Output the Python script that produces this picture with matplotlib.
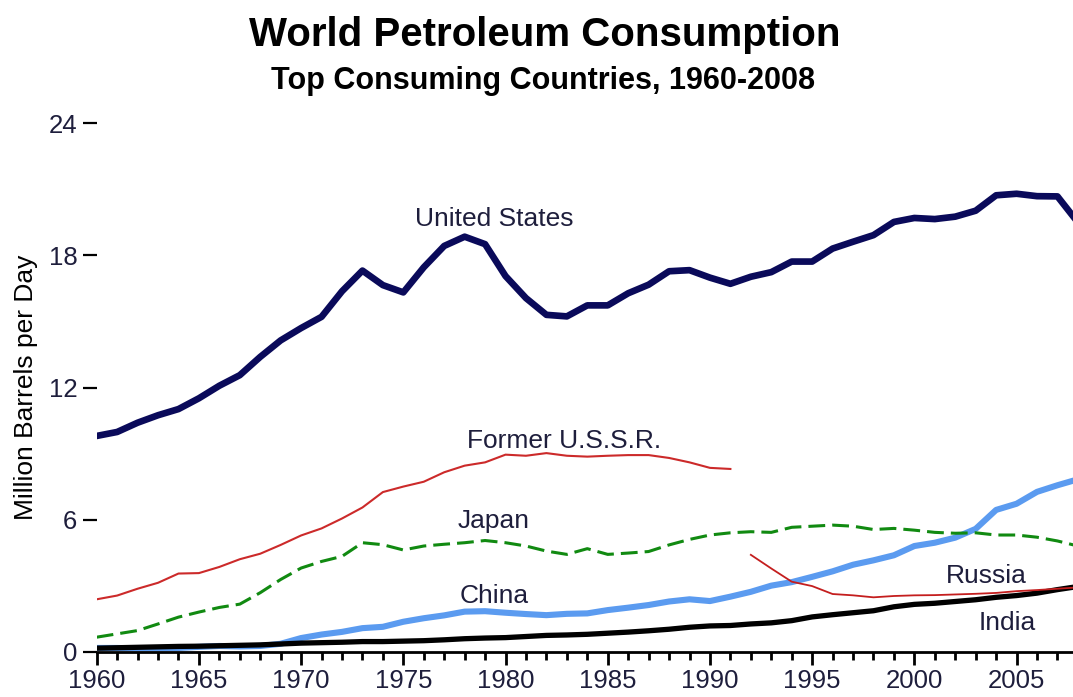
import matplotlib
matplotlib.use("Agg")
import matplotlib.pyplot as plt
from matplotlib.ticker import MultipleLocator

plt.rcParams['font.family'] = ['Liberation Sans', 'DejaVu Sans']

years = list(range(1960, 2009))

united_states = [9.80, 9.98, 10.40, 10.74, 11.02, 11.51, 12.08, 12.56, 13.39, 14.14,
                 14.70, 15.21, 16.37, 17.31, 16.65, 16.32, 17.46, 18.43, 18.85, 18.51,
                 17.06, 16.06, 15.30, 15.23, 15.73, 15.73, 16.28, 16.67, 17.28, 17.33,
                 16.99, 16.71, 17.03, 17.24, 17.72, 17.72, 18.31, 18.62, 18.92, 19.52,
                 19.70, 19.65, 19.76, 20.03, 20.73, 20.80, 20.69, 20.68, 19.50]

ussr_years = list(range(1960, 1992))
former_ussr = [2.38, 2.55, 2.86, 3.13, 3.55, 3.57, 3.85, 4.20, 4.45, 4.85,
               5.28, 5.60, 6.05, 6.55, 7.25, 7.50, 7.72, 8.15, 8.45, 8.60,
               8.95, 8.90, 9.02, 8.90, 8.86, 8.90, 8.93, 8.93, 8.80, 8.60,
               8.35, 8.30]

japan = [0.66, 0.81, 0.96, 1.26, 1.57, 1.80, 2.01, 2.16, 2.68, 3.28,
         3.80, 4.10, 4.33, 4.95, 4.86, 4.62, 4.80, 4.88, 4.95, 5.05,
         4.95, 4.80, 4.57, 4.42, 4.68, 4.42, 4.48, 4.55, 4.85, 5.10,
         5.30, 5.40, 5.45, 5.42, 5.65, 5.70, 5.75, 5.70, 5.55, 5.60,
         5.52, 5.42, 5.38, 5.40, 5.30, 5.30, 5.20, 5.03, 4.80]

china = [0.17, 0.17, 0.15, 0.15, 0.17, 0.22, 0.26, 0.24, 0.26, 0.36,
         0.62, 0.78, 0.90, 1.07, 1.13, 1.36, 1.52, 1.65, 1.82, 1.84,
         1.77, 1.71, 1.66, 1.72, 1.74, 1.89, 2.00, 2.12, 2.28, 2.38,
         2.30, 2.50, 2.72, 3.00, 3.16, 3.40, 3.65, 3.95, 4.15, 4.38,
         4.80, 4.95, 5.18, 5.58, 6.44, 6.72, 7.26, 7.56, 7.83]

india = [0.16, 0.18, 0.20, 0.22, 0.24, 0.25, 0.27, 0.29, 0.31, 0.35,
         0.39, 0.41, 0.43, 0.46, 0.46, 0.48, 0.50, 0.54, 0.59, 0.62,
         0.64, 0.69, 0.74, 0.76, 0.79, 0.84, 0.89, 0.95, 1.02, 1.11,
         1.17, 1.19, 1.26, 1.31, 1.41, 1.58, 1.68, 1.77, 1.86, 2.04,
         2.15, 2.20, 2.28, 2.36, 2.47, 2.55, 2.66, 2.82, 2.96]

russia_years = list(range(1992, 2009))
russia = [4.40, 3.78, 3.18, 2.98, 2.62, 2.56, 2.47, 2.53, 2.56, 2.57,
          2.60, 2.63, 2.67, 2.75, 2.80, 2.86, 2.92]

y_ticks = [0, 6, 12, 18, 24]
x_ticks = [1960, 1965, 1970, 1975, 1980, 1985, 1990, 1995, 2000, 2005]

label_color = '#1e1e3c'

fig = plt.figure(figsize=(10.73, 6.97), dpi=100)
ax = fig.add_axes([96.7 / 1073, (697 - 651.7) / 697, (1077.9 - 96.7) / 1073, (651.7 - 123.3) / 697])

ax.plot(years, china, color='#5b9bf0', lw=4.4, solid_capstyle='butt', zorder=2)
ax.plot(years, india, color='black', lw=3.8, solid_capstyle='butt', zorder=3)
ax.plot(years, japan, color='#118a11', lw=2.2, dashes=(5.5, 2.3), zorder=3)
ax.plot(ussr_years, former_ussr, color='#cc2a2a', lw=1.5, zorder=4)
ax.plot(russia_years, russia, color='#c41e1e', lw=1.3, zorder=4)
ax.plot(years, united_states, color='#0a0a5a', lw=4.8, zorder=5)

ax.set_xlim(1960, 2008)
ax.set_ylim(0, 24)
ax.set_xticks(x_ticks)
ax.xaxis.set_minor_locator(MultipleLocator(1))
ax.set_yticks(y_ticks)

for s in ['top', 'right', 'left']:
    ax.spines[s].set_visible(False)
ax.spines['bottom'].set_linewidth(2.0)
ax.tick_params(axis='x', which='major', direction='out', length=9.5, width=2.0,
               labelsize=18.5, labelcolor=label_color, pad=3)
ax.tick_params(axis='x', which='minor', direction='out', length=6, width=2.0)
ax.tick_params(axis='y', which='major', direction='out', length=10, width=1.6,
               labelsize=18.5, labelcolor=label_color, pad=4)

ax.set_ylabel('Million Barrels per Day', fontsize=19, color='black', labelpad=10)
ax.yaxis.set_label_coords(-0.06, 0.5)

fig.text(545 / 1073, 1 - 35 / 697, 'World Petroleum Consumption', ha='center', va='center',
         fontsize=29, fontweight='bold', color='black')
fig.text(543 / 1073, 1 - 81 / 697, 'Top Consuming Countries, 1960-2008', ha='center', va='center',
         fontsize=22, fontweight='bold', color='black')

labels = [('United States', 1979.47, 19.33), ('Former U.S.S.R.', 1982.85, 9.25),
          ('Japan', 1979.42, 5.60), ('China', 1979.44, 2.21),
          ('Russia', 2003.52, 3.12), ('India', 2004.55, 0.98)]
for txt, x, y in labels:
    ax.text(x, y, txt, ha='center', va='baseline', fontsize=19, color=label_color, zorder=6)

fig.savefig('out.png', dpi=100, facecolor='white')
